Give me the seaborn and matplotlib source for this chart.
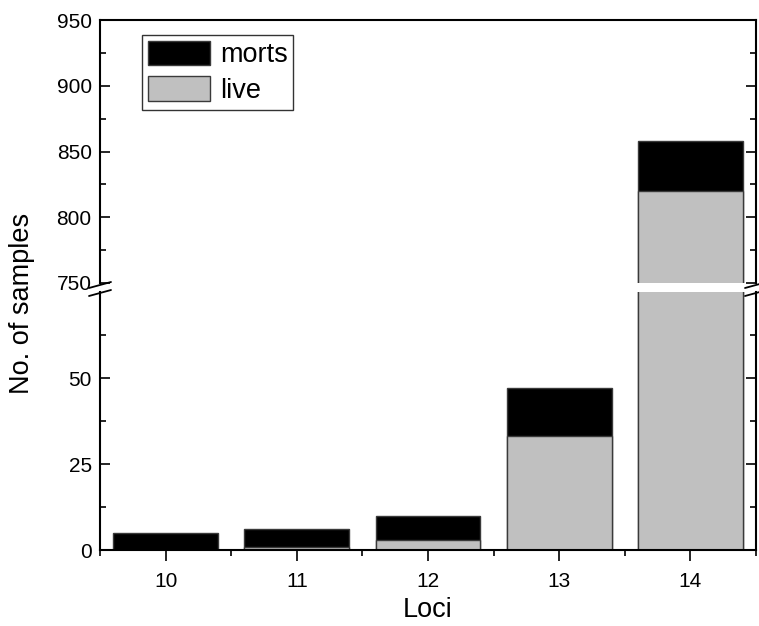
import matplotlib
matplotlib.use("Agg")
import matplotlib.pyplot as plt
from matplotlib.lines import Line2D
from matplotlib.patches import Patch
from matplotlib.ticker import MultipleLocator, FixedLocator
import seaborn as sns
import pandas as pd

# Stacked sample counts per number of loci
loci = ["10", "11", "12", "13", "14"]
live = [0, 1, 3, 33, 820]
morts = [5, 5, 7, 14, 38]

df = pd.DataFrame({"loci": loci, "live": live, "morts": morts})
df["total"] = df["live"] + df["morts"]

sns.set_style("ticks")
plt.rcParams["font.family"] = ["Liberation Sans", "DejaVu Sans"]
plt.rcParams["axes.linewidth"] = 1.5
for key in ("text.color", "axes.labelcolor", "xtick.color", "ytick.color",
            "axes.edgecolor"):
    plt.rcParams[key] = "black"

W, H = 759, 626
fig = plt.figure(figsize=(W / 100, H / 100), dpi=100)

left, right = 100 / W, 756 / W
ax_top = fig.add_axes([left, (H - 283) / H, right - left, (283 - 20) / H])
ax_bot = fig.add_axes([left, (H - 550) / H, right - left, (550 - 292) / H])

edge = "#3a3a3a"
for ax in (ax_top, ax_bot):
    sns.barplot(data=df, x="loci", y="total", color="black", saturation=1,
                width=0.8, edgecolor=edge, linewidth=1.0, ax=ax)
    sns.barplot(data=df, x="loci", y="live", color="#c0c0c0", saturation=1,
                width=0.8, edgecolor=edge, linewidth=1.0, ax=ax)
    ax.set_xlim(-0.5, 4.5)
    ax.set_ylabel("")
    ax.set_xlabel("")
    for s in ax.spines.values():
        s.set_linewidth(1.5)
        s.set_color("black")
    ax.tick_params(axis="y", which="major", direction="in", length=7,
                   width=1.2, labelsize=15, right=True, pad=6)
    ax.tick_params(axis="y", which="minor", direction="in", length=4,
                   width=1.2, right=True)

# upper segment
ax_top.set_ylim(750, 950)
ax_top.yaxis.set_major_locator(MultipleLocator(50))
ax_top.yaxis.set_minor_locator(MultipleLocator(25))
ax_top.spines["bottom"].set_visible(False)
ax_top.tick_params(axis="x", which="both", bottom=False, labelbottom=False)

# lower segment
ax_bot.set_ylim(0, 75)
ax_bot.yaxis.set_major_locator(FixedLocator([0, 25, 50]))
ax_bot.yaxis.set_minor_locator(FixedLocator([12.5, 37.5, 62.5]))
ax_bot.spines["top"].set_visible(False)
ax_bot.xaxis.set_minor_locator(FixedLocator([-0.5, 0.5, 1.5, 2.5, 3.5, 4.5]))
ax_bot.tick_params(axis="x", which="major", direction="out", length=8,
                   width=1.2, labelsize=15, pad=8)
ax_bot.tick_params(axis="x", which="minor", direction="out", length=4,
                   width=1.2)
ax_bot.set_xlabel("Loci", fontsize=19.5, labelpad=4)

fig.text(22 / W, 0.515, "No. of samples", rotation=90, fontsize=19.5,
         ha="center", va="center")

# axis-break marks on both sides
for xc in (left, right):
    for yc in (285, 293):
        fig.add_artist(Line2D([xc - 11 / W, xc + 11 / W],
                              [(H - yc - 3) / H, (H - yc + 3) / H],
                              color="black", lw=1.3))

handles = [Patch(facecolor="black", edgecolor=edge, label="morts"),
           Patch(facecolor="#c0c0c0", edgecolor=edge, label="live")]
leg = ax_top.legend(handles=handles, loc="upper left",
                    bbox_to_anchor=(42 / 656, (283 - 35) / 263), fontsize=19.5,
                    frameon=True, fancybox=False, edgecolor="black",
                    handlelength=2.3, handleheight=1.0, handletextpad=0.35,
                    labelspacing=0.3, borderpad=0.22, borderaxespad=0)
leg.get_frame().set_linewidth(1.0)

fig.savefig("out.png", dpi=100)
